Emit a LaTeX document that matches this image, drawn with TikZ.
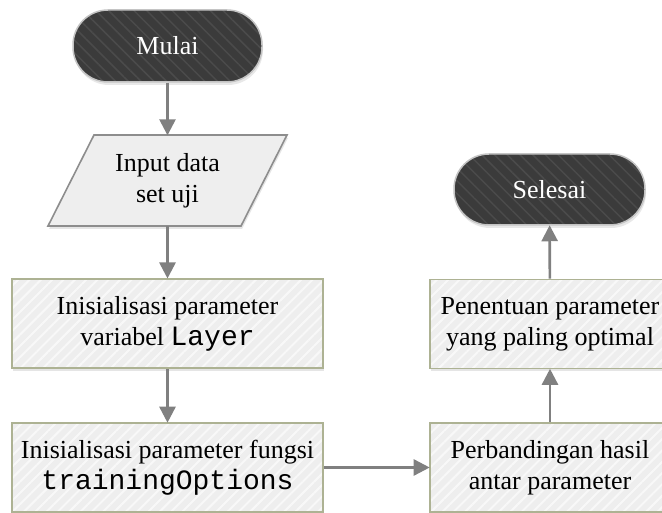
\documentclass[tikz,border=0pt]{standalone}
\usepackage{fontspec}
\setmainfont{Liberation Serif}
\setmonofont{Liberation Mono}
\usetikzlibrary{arrows.meta,shadows,patterns.meta}

\definecolor{termfill}{HTML}{3B3B3B}
\definecolor{termline}{HTML}{C4C4C4}
\definecolor{boxfill}{HTML}{EEEEEE}
\definecolor{boxline}{HTML}{ADB293}
\definecolor{flowline}{HTML}{808080}

\tikzset{
  txt/.style={font=\fontsize{26}{31}\selectfont, align=center, inner sep=0pt},
  terminal/.style={txt, text=white, draw=termline, line width=1.5pt,
    rounded corners=35pt,
    preaction={fill=termfill, drop shadow={opacity=0.18, shadow xshift=1pt, shadow yshift=-3pt}},
    pattern={Lines[angle=-45,distance=9pt,line width=1.5pt]}, pattern color=white!8!termfill},
  procbox/.style={txt, draw=boxline, line width=1.6pt,
    preaction={fill=boxfill, drop shadow={opacity=0.2, shadow xshift=1pt, shadow yshift=-3pt}},
    pattern={Lines[angle=45,distance=8pt,line width=2pt]}, pattern color=white!60!boxfill},
  iobox/.style={draw=flowline!90, line width=1.6pt,
    preaction={fill=boxfill, drop shadow={opacity=0.2, shadow xshift=1pt, shadow yshift=-3pt}}},
  flow/.style={draw=flowline, line width=2.6pt,
    -{Triangle[width=16pt,length=16pt]}, shorten >=-0.5pt}
}
\newcommand{\cw}[1]{{\fontsize{28}{31}\ttfamily #1}}

\begin{document}
\begin{tikzpicture}[x=1pt,y=-1pt]
  \useasboundingbox (0,0) rectangle (662,513);
  \clip (0,0) rectangle (662,513);
  \fill[white] (0,0) rectangle (662,513);

  % start terminal
  \node[terminal, minimum width=189pt, minimum height=72pt] (start) at (167.5,46) {Mulai};

  % input parallelogram
  \draw[iobox] (94,135) -- (287,135) -- (241,226) -- (48,226) -- cycle;
  \node[txt, minimum width=193pt, minimum height=91pt] (input) at (167.5,180.5)
    {Input data\\set uji};

  % process boxes, left column
  \node[procbox, minimum width=311pt, minimum height=89pt] (layer) at (167.5,323.5)
    {Inisialisasi parameter\\variabel \cw{Layer}};
  \node[procbox, minimum width=311pt, minimum height=89pt] (opts) at (167.5,467.5)
    {Inisialisasi parameter fungsi\\\cw{trainingOptions}};

  % process boxes, right column
  \node[procbox, minimum width=240pt, minimum height=89pt] (compare) at (550,467.5)
    {Perbandingan hasil\\antar parameter};
  \node[procbox, minimum width=240pt, minimum height=89pt] (best) at (550,324)
    {Penentuan parameter\\yang paling optimal};

  % end terminal
  \node[terminal, minimum width=191pt, minimum height=71pt] (stop) at (549.5,189.5) {Selesai};

  % connectors
  \draw[flow] (start) -- (input);
  \draw[flow] (input) -- (layer);
  \draw[flow] (layer) -- (opts);
  \draw[flow] (opts) -- (compare);
  \draw[flow] (compare) -- (best);
  \draw[flow] (best) -- (stop);
\end{tikzpicture}
\end{document}
